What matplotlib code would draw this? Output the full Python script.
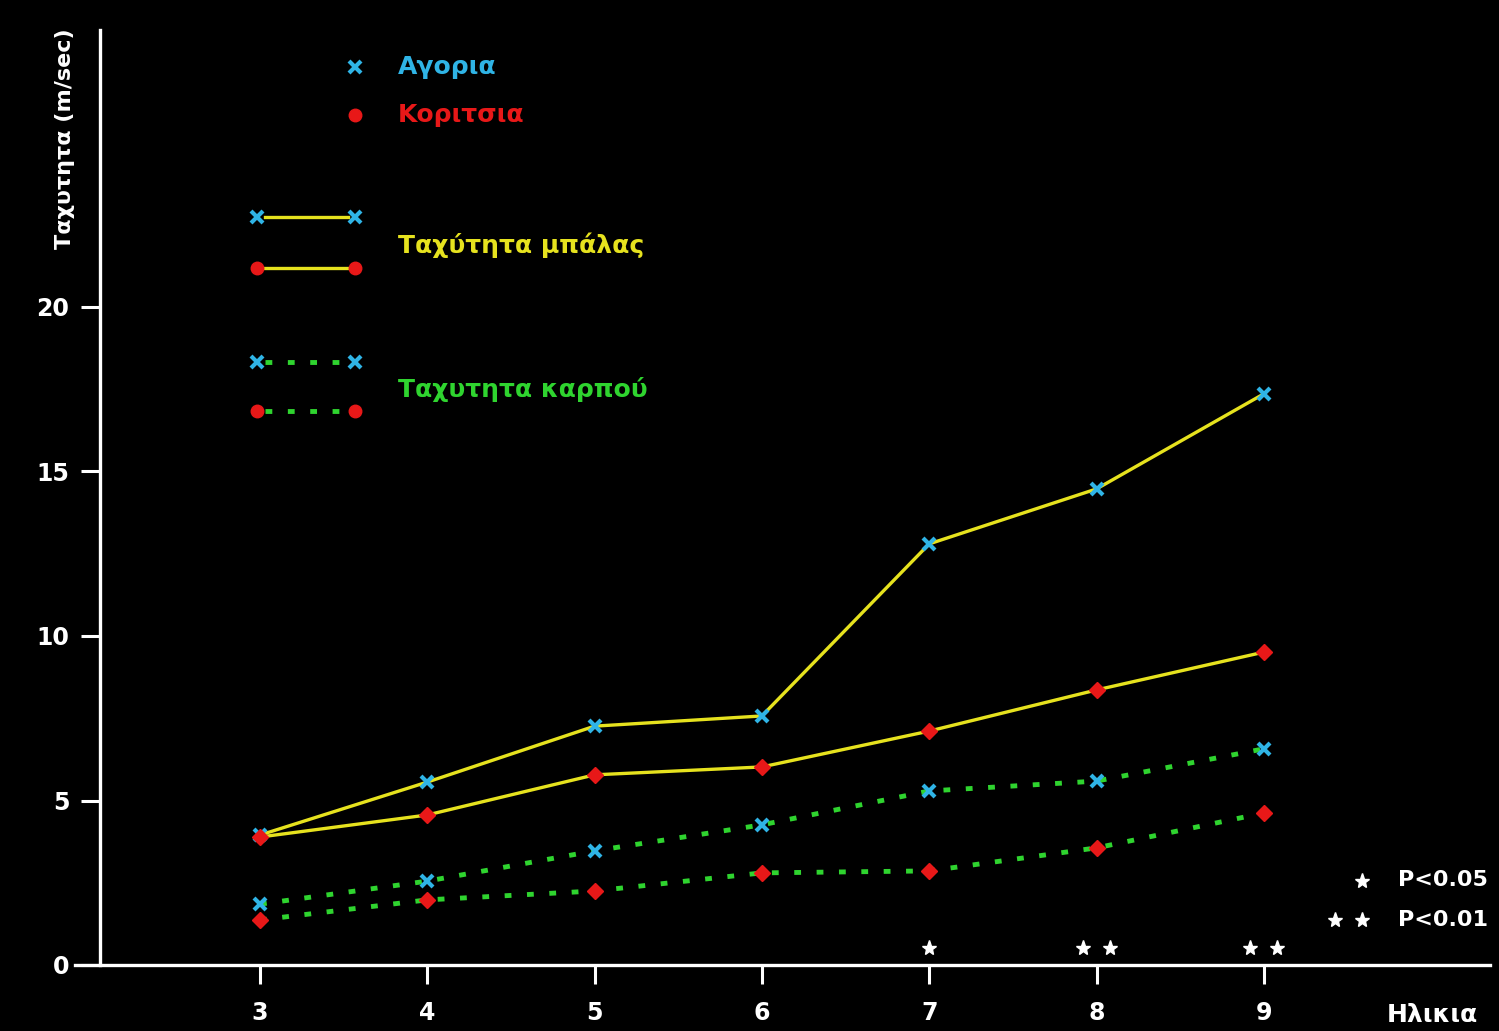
import matplotlib
matplotlib.use("Agg")
import matplotlib.pyplot as plt

plt.rcParams['font.family'] = ['DejaVu Sans']
plt.rcParams['font.weight'] = 'bold'

# Δεδομένα (ηλικία σε έτη, ταχύτητα σε m/sec)
ages = [3, 4, 5, 6, 7, 8, 9]
ball_boys = [3.95, 5.56, 7.26, 7.57, 12.8, 14.47, 17.36]
ball_girls = [3.89, 4.56, 5.78, 6.02, 7.11, 8.36, 9.51]
wrist_boys = [1.85, 2.55, 3.47, 4.26, 5.29, 5.59, 6.57]
wrist_girls = [1.37, 1.98, 2.25, 2.80, 2.86, 3.56, 4.62]

# Στατιστική σημαντικότητα ανά ηλικία (αριθμός αστεριών)
sig_ages = [7, 8, 9]
sig_stars = [1, 2, 2]

yticks = [0, 5, 10, 15, 20]

W, H = 1499, 1031
BG = 'black'
FG = 'white'
YELLOW = '#e6e21e'
GREEN = '#2fd42f'
CYAN = '#2fb4e6'
RED = '#e81818'
DOTS = (0, (1.4, 3.2))

fig = plt.figure(figsize=(W / 100, H / 100), dpi=100, facecolor=BG)

# άξονες σε pixel της εικόνας
px_left, px_right, px_bottom, px_top = 75, 1490, 965, 30
ax = fig.add_axes([px_left / W, 1 - px_bottom / H,
                   (px_right - px_left) / W, (px_bottom - px_top) / H])
ax.set_facecolor(BG)

x_per_px = 1 / 167.3
x0 = 3 - (260 - px_left) * x_per_px
x1 = 3 + (px_right - 260) * x_per_px
ax.set_xlim(x0, x1)
ax.set_ylim(0, (px_bottom - px_top) / 32.9)

# γραμμές
ax.plot(ages, ball_boys, color=YELLOW, lw=2.4, zorder=2)
ax.plot(ages, ball_girls, color=YELLOW, lw=2.4, zorder=2)
ax.plot(ages, wrist_boys, color=GREEN, lw=3.5, ls=DOTS, zorder=2)
ax.plot(ages, wrist_girls, color=GREEN, lw=3.5, ls=DOTS, zorder=2)

for vals in (ball_boys, wrist_boys):
    ax.plot(ages, vals, ls='none', marker='x', ms=9, mew=3, color=CYAN, zorder=3)
for vals in (ball_girls, wrist_girls):
    ax.plot(ages, vals, ls='none', marker='D', ms=8, color=RED, mec=RED, zorder=3)

# αστέρια σημαντικότητας
for a, n in zip(sig_ages, sig_stars):
    if n == 1:
        xs = [a]
    else:
        xs = [a - 0.08, a + 0.08]
    ax.plot(xs, [0.52] * len(xs), ls='none', marker='*', ms=11, color=FG, zorder=3)

# άξονες
for s in ('top', 'right'):
    ax.spines[s].set_visible(False)
ax.spines['left'].set_position(('data', 3 - (260 - 100) * x_per_px))
ax.spines['left'].set_color(FG)
ax.spines['bottom'].set_color(FG)
ax.spines['left'].set_linewidth(2.4)
ax.spines['bottom'].set_linewidth(2.4)

ax.set_xticks(ages)
ax.set_yticks(yticks)
ax.tick_params(axis='both', colors=FG, width=2.2, length=14, labelsize=17, pad=12)
ax.tick_params(axis='y', pad=8)

fig.text(65 / W, 1 - 139 / H, 'Ταχυτητα (m/sec)', rotation=90, color=FG,
         fontsize=16, ha='center', va='center')
fig.text(1432 / W, 1 - 1015 / H, 'Ηλικια', color=FG, fontsize=18,
         ha='center', va='center')


def fx(px):
    return px / W


def fy(py):
    return 1 - py / H


# υπόμνημα
fig.lines.append(plt.Line2D([fx(355)], [fy(67)], ls='none', marker='x', ms=9,
                            mew=3, color=CYAN, transform=fig.transFigure))
fig.lines.append(plt.Line2D([fx(355)], [fy(115)], ls='none', marker='o', ms=9,
                            color=RED, transform=fig.transFigure))
fig.text(fx(398), fy(67), 'Αγορια', color=CYAN, fontsize=18, va='center')
fig.text(fx(398), fy(115), 'Κοριτσια', color=RED, fontsize=18, va='center')

for py, mk, mc, col, ls, lw in [
        (217, 'x', CYAN, YELLOW, '-', 2.4),
        (268, 'o', RED, YELLOW, '-', 2.4),
        (362, 'x', CYAN, GREEN, DOTS, 3.5),
        (411, 'o', RED, GREEN, DOTS, 3.5)]:
    fig.lines.append(plt.Line2D([fx(265), fx(348)], [fy(py), fy(py)], color=col,
                                ls=ls, lw=lw, transform=fig.transFigure))
    fig.lines.append(plt.Line2D([fx(257), fx(355)], [fy(py), fy(py)], ls='none',
                                marker=mk, ms=9, mew=3 if mk == 'x' else 1,
                                color=mc, transform=fig.transFigure))

fig.text(fx(398), fy(245), 'Ταχύτητα μπάλας', color=YELLOW, fontsize=18, va='center')
fig.text(fx(398), fy(389), 'Ταχυτητα καρπού', color=GREEN, fontsize=18, va='center')

# υπόμνημα σημαντικότητας
fig.lines.append(plt.Line2D([fx(1362)], [fy(881)], ls='none', marker='*', ms=11,
                            color=FG, transform=fig.transFigure))
fig.lines.append(plt.Line2D([fx(1335), fx(1362)], [fy(920), fy(920)], ls='none',
                            marker='*', ms=11, color=FG, transform=fig.transFigure))
fig.text(fx(1398), fy(880), 'P<0.05', color=FG, fontsize=16, va='center')
fig.text(fx(1398), fy(920), 'P<0.01', color=FG, fontsize=16, va='center')

fig.savefig('out.png', dpi=100, facecolor=BG)
